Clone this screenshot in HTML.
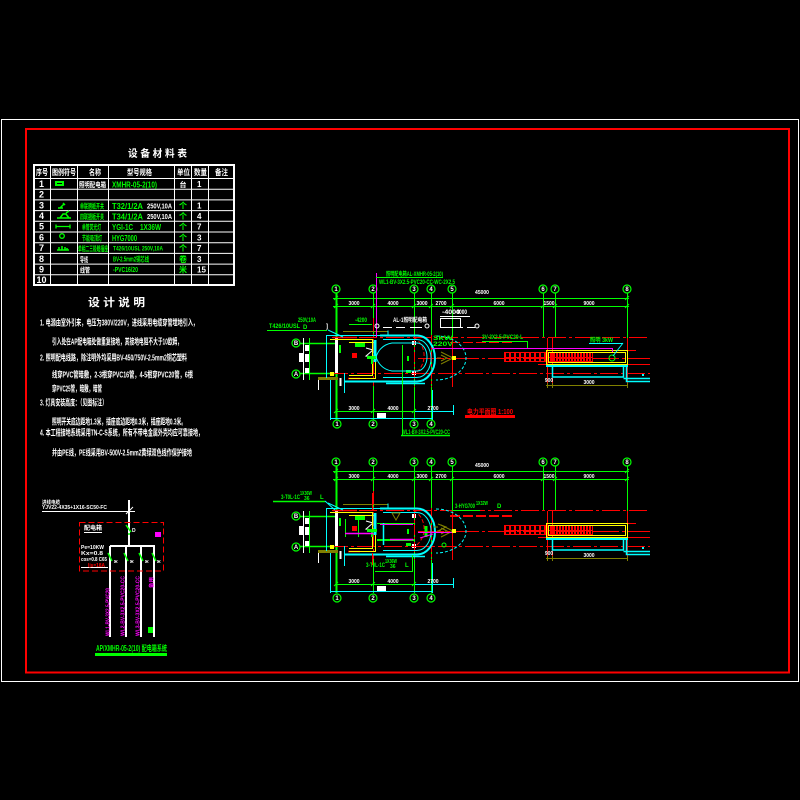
<!DOCTYPE html>
<html><head><meta charset="utf-8"><title>电力平面图</title>
<style>
html,body{margin:0;padding:0;background:#000;width:800px;height:800px;overflow:hidden}
svg{display:block}
text{font-family:"Liberation Sans","Noto Sans CJK SC",sans-serif;font-weight:bold}
.w{fill:#fff}.g{fill:#0f0}.r{fill:#f00}.m{fill:#f0f}
</style></head><body>
<svg width="800" height="800" viewBox="0 0 800 800" xmlns="http://www.w3.org/2000/svg">
<defs>
<pattern id="p1" x="504" y="0" width="5" height="20" patternUnits="userSpaceOnUse"><rect width="2" height="20" fill="#f00"/></pattern>
<pattern id="p2" x="547" y="0" width="3" height="20" patternUnits="userSpaceOnUse"><rect width="2" height="20" fill="#f00"/></pattern>
</defs>
<rect width="800" height="800" fill="#000"/>
<rect x="1.5" y="119.5" width="797" height="562" fill="none" stroke="#fff" stroke-width="1"/>
<rect x="26" y="129" width="763" height="543.5" fill="none" stroke="#f00" stroke-width="2"/>

<!-- ============ TABLE ============ -->
<text x="128" y="157" class="w" font-size="10" textLength="59" lengthAdjust="spacingAndGlyphs">设 备 材 料 表</text>
<g stroke="#fff" fill="none">
<rect x="34" y="165" width="200" height="120" stroke-width="2"/>
<g stroke-width="1">
<line x1="34" y1="178.5" x2="234" y2="178.5"/>
<line x1="34" y1="189.2" x2="234" y2="189.2"/>
<line x1="34" y1="199.9" x2="234" y2="199.9"/>
<line x1="34" y1="210.6" x2="234" y2="210.6"/>
<line x1="34" y1="221.3" x2="234" y2="221.3"/>
<line x1="34" y1="232" x2="234" y2="232"/>
<line x1="34" y1="242.7" x2="234" y2="242.7"/>
<line x1="34" y1="253.4" x2="234" y2="253.4"/>
<line x1="34" y1="264.1" x2="234" y2="264.1"/>
<line x1="34" y1="274.8" x2="234" y2="274.8"/>
<line x1="50.5" y1="165" x2="50.5" y2="285"/>
<line x1="77.5" y1="165" x2="77.5" y2="285"/>
<line x1="108.5" y1="165" x2="108.5" y2="285"/>
<line x1="174.5" y1="165" x2="174.5" y2="285"/>
<line x1="191.5" y1="165" x2="191.5" y2="285"/>
<line x1="208.5" y1="165" x2="208.5" y2="285"/>
</g></g>
<g class="w" font-size="8">
<text x="36" y="175" textLength="12" lengthAdjust="spacingAndGlyphs">序号</text>
<text x="52" y="175" textLength="24" lengthAdjust="spacingAndGlyphs">图例符号</text>
<text x="89" y="175" textLength="12" lengthAdjust="spacingAndGlyphs">名称</text>
<text x="127" y="175" textLength="25" lengthAdjust="spacingAndGlyphs">型号规格</text>
<text x="177" y="175" textLength="13" lengthAdjust="spacingAndGlyphs">单位</text>
<text x="194" y="175" textLength="13" lengthAdjust="spacingAndGlyphs">数量</text>
<text x="215" y="175" textLength="13" lengthAdjust="spacingAndGlyphs">备注</text>
</g>
<g class="w" font-size="9" font-weight="normal" text-anchor="middle">
<text x="41.5" y="187">1</text><text x="41.5" y="197.5">2</text><text x="41.5" y="208.3">3</text>
<text x="41.5" y="219">4</text><text x="41.5" y="229.7">5</text><text x="41.5" y="240.4">6</text>
<text x="41.5" y="251.1">7</text><text x="41.5" y="261.8">8</text><text x="41.5" y="272.5">9</text>
<text x="41.5" y="283.2">10</text>
</g>
<!-- icons -->
<rect x="55" y="181" width="9" height="5" fill="#0f0"/><line x1="57" y1="183.5" x2="62" y2="183.5" stroke="#000"/>
<path d="M58 208 h5 M60 208 l4 -4 M63 203 l2 2" stroke="#0f0" stroke-width="1.5" fill="none"/>
<path d="M57 218 h14 M60 218 l3 -4 h3 l3 4 M66 213 l3 -2" stroke="#0f0" stroke-width="1.5" fill="none"/>
<path d="M56 226.5 h14 M56 224.5 v4 M70 224.5 v4" stroke="#0f0" stroke-width="1.3" fill="none"/>
<circle cx="62" cy="236" r="2.3" stroke="#0f0" stroke-width="1.3" fill="none"/>
<path d="M57 250 h12 M59 250 v-3 M62 250 v-4 M65 250 v-3 M67 250 v-2" stroke="#0f0" stroke-width="1.5" fill="none"/>
<!-- names -->
<g font-size="7">
<text x="79" y="187" class="w" textLength="27" lengthAdjust="spacingAndGlyphs">照明配电箱</text>
<text x="80" y="208.3" class="g" textLength="24" lengthAdjust="spacingAndGlyphs">单联翘板开关</text>
<text x="80" y="219" class="g" textLength="24" lengthAdjust="spacingAndGlyphs">四联翘板开关</text>
<text x="82" y="229.7" class="g" textLength="19" lengthAdjust="spacingAndGlyphs">单管荧光灯</text>
<text x="82" y="240.4" class="g" textLength="20" lengthAdjust="spacingAndGlyphs">节能吸顶灯</text>
<text x="78" y="251.1" class="g" textLength="30" lengthAdjust="spacingAndGlyphs">单相二三极暗插座</text>
<text x="80" y="261.8" class="w" textLength="8" lengthAdjust="spacingAndGlyphs">导线</text>
<text x="80" y="272.5" class="w" textLength="10" lengthAdjust="spacingAndGlyphs">线管</text>
</g>
<g font-size="8.5" font-weight="normal">
<text x="112" y="187.5" class="g" textLength="45" lengthAdjust="spacingAndGlyphs">XMHR-05-2(10)</text>
<text x="112" y="208.8" class="g" textLength="31" lengthAdjust="spacingAndGlyphs">T32/1/2A</text>
<text x="147" y="208.3" class="w" font-size="7" textLength="25" lengthAdjust="spacingAndGlyphs">250V,10A</text>
<text x="112" y="219.5" class="g" textLength="31" lengthAdjust="spacingAndGlyphs">T34/1/2A</text>
<text x="147" y="219" class="w" font-size="7" textLength="25" lengthAdjust="spacingAndGlyphs">250V,10A</text>
<text x="112" y="230.2" class="g" textLength="21" lengthAdjust="spacingAndGlyphs">YGI-1C</text>
<text x="140" y="230.2" class="g" textLength="21" lengthAdjust="spacingAndGlyphs">1X36W</text>
<text x="112" y="240.9" class="g" textLength="25" lengthAdjust="spacingAndGlyphs">HYG7000</text>
<text x="113" y="250.6" class="g" font-size="6" textLength="50" lengthAdjust="spacingAndGlyphs">T426/10USL  250V,10A</text>
<text x="113" y="261.5" class="g" font-size="7" textLength="36" lengthAdjust="spacingAndGlyphs">BV-2.5mm2铜芯线</text>
<text x="113" y="272.2" class="g" font-size="7" textLength="25" lengthAdjust="spacingAndGlyphs">-PVC16/20</text>
</g>
<g font-size="8" text-anchor="middle">
<text x="183" y="187" class="w" font-size="7">台</text>
<text x="183" y="208.3" class="g">个</text><text x="183" y="219" class="g">个</text>
<text x="183" y="229.7" class="g">个</text><text x="183" y="240.4" class="g">个</text>
<text x="183" y="251.1" class="g">个</text><text x="183" y="261.8" class="g">卷</text>
<text x="183" y="272.5" class="g">米</text>
</g>
<g class="w" font-size="8" font-weight="normal">
<text x="197" y="187">1</text><text x="197" y="208.3">1</text><text x="197" y="219">4</text>
<text x="197" y="229.7">7</text><text x="197" y="240.4">3</text><text x="197" y="251.1">7</text>
<text x="197" y="261.8">3</text><text x="197" y="272.5">15</text>
</g>

<!-- ============ NOTES ============ -->
<text x="88" y="306" class="w" font-size="11" textLength="57" lengthAdjust="spacingAndGlyphs">设 计 说 明</text>
<g class="w" font-size="8.5">
<text x="40" y="325.5" textLength="158" lengthAdjust="spacingAndGlyphs">1. 电源由室外引来，电压为380V/220V，进线采用电缆穿管埋地引入，</text>
<text x="52" y="344.5" textLength="130" lengthAdjust="spacingAndGlyphs">引入处在AP配电箱处做重复接地，其接地电阻不大于10欧姆，</text>
<text x="40" y="360.5" textLength="147" lengthAdjust="spacingAndGlyphs">2. 照明配电线路，除注明外均采用BV-450/750V-2.5mm2铜芯塑料</text>
<text x="52" y="377.5" textLength="141" lengthAdjust="spacingAndGlyphs">线穿PVC管暗敷，2-3根穿PVC16管，4-5根穿PVC20管，6根</text>
<text x="52" y="391.5" textLength="50" lengthAdjust="spacingAndGlyphs">穿PVC25管，暗敷，暗管</text>
<text x="40" y="405.5" textLength="67" lengthAdjust="spacingAndGlyphs">3. 灯具安装高度：（见图标注）</text>
<text x="52" y="424.5" textLength="134" lengthAdjust="spacingAndGlyphs">照明开关底边距地1.3米，插座底边距地0.3米，插座距地0.3米。</text>
<text x="40" y="435.5" textLength="163" lengthAdjust="spacingAndGlyphs">4. 本工程接地系统采用TN-C-S系统，所有不带电金属外壳均应可靠接地，</text>
<text x="52" y="455.5" textLength="140" lengthAdjust="spacingAndGlyphs">并由PE线，PE线采用BV-500V-2.5mm2黄绿双色线作保护接地</text>
</g>

<!-- ============ SYSTEM DIAGRAM ============ -->
<g class="w" font-size="5">
<text x="42" y="504" textLength="18" lengthAdjust="spacingAndGlyphs">进线电缆</text>
<text x="42" y="509" textLength="65" lengthAdjust="spacingAndGlyphs">YJV22-4X35+1X16-SC50-FC</text>
</g>
<g stroke="#fff" fill="none">
<line x1="42" y1="511.5" x2="135" y2="511.5"/>
<line x1="129" y1="500" x2="129" y2="546" stroke-width="2"/>
<line x1="126" y1="514" x2="133" y2="507"/>
<line x1="110" y1="546" x2="155" y2="546" stroke-width="2"/>
<line x1="110" y1="546" x2="110" y2="637" stroke-width="2"/>
<line x1="126" y1="546" x2="126" y2="637" stroke-width="2"/>
<line x1="141" y1="546" x2="141" y2="637" stroke-width="2"/>
<line x1="154" y1="546" x2="154" y2="637" stroke-width="2"/>
<line x1="84" y1="532.5" x2="102" y2="532.5"/>
<line x1="81" y1="567.5" x2="108" y2="567.5"/>
</g>
<rect x="79.5" y="522.5" width="84" height="48.5" fill="none" stroke="#f00" stroke-width="1" stroke-dasharray="6 3"/>
<text x="84" y="530" class="w" font-size="6" textLength="18" lengthAdjust="spacingAndGlyphs">配电箱</text>
<g stroke="#0f0" stroke-width="1.5" fill="none">
<path d="M126 525 L131 532 M129 533 V535"/>
<path d="M108 553 L112 561 M124 553 L128 561 M139 553 L143 561 M152 553 L156 561"/>
</g>
<g class="w" font-size="5">
<text x="132" y="532">D</text>
<text x="114" y="563">ж</text><text x="130" y="563">ж</text><text x="145" y="563">ж</text><text x="157" y="563">ж</text>
<text x="81" y="549" textLength="23" lengthAdjust="spacingAndGlyphs">Pe=10KW</text>
<text x="81" y="555" textLength="22" lengthAdjust="spacingAndGlyphs">Kx=0.8</text>
<text x="81" y="561" textLength="26" lengthAdjust="spacingAndGlyphs">cos=0.8 C65</text>
</g>
<text x="88" y="567" class="r" font-size="5" textLength="17" lengthAdjust="spacingAndGlyphs">Ijs=18A</text>
<rect x="155" y="532" width="6" height="5" fill="#f0f"/>
<g class="m" font-size="5">
<text transform="translate(109.5,636) rotate(-90)" textLength="48" lengthAdjust="spacingAndGlyphs">WL1-BV-3X2.5-PVC20</text>
<text transform="translate(124.5,636) rotate(-90)" textLength="60" lengthAdjust="spacingAndGlyphs">WL2-BV-3X2.5-PVC20-CC</text>
<text transform="translate(139.5,636) rotate(-90)" textLength="60" lengthAdjust="spacingAndGlyphs">WL3-BV-3X2.5-PVC20-CC</text>
<text transform="translate(153,588) rotate(-90)" textLength="11" lengthAdjust="spacingAndGlyphs">备用</text>
</g>
<rect x="148" y="627" width="5" height="6" fill="#0f0"/>
<text x="96" y="651" class="g" font-size="8" font-weight="normal" textLength="71" lengthAdjust="spacingAndGlyphs">AP/XMHR-05-2(10) 配电箱系统</text>
<rect x="95" y="653" width="72" height="3" fill="#0f0"/>

<!-- ============ COMMON PLAN GEOMETRY ============ -->
<g id="cm" fill="none">
 <g stroke="#0f0">
  <line x1="336.5" y1="293" x2="336.5" y2="420" stroke-width="2"/>
  <line x1="373.5" y1="293" x2="373.5" y2="335"/>
  <line x1="373.5" y1="385" x2="373.5" y2="420"/>
  <line x1="414.5" y1="293" x2="414.5" y2="420"/>
  <line x1="431.5" y1="293" x2="431.5" y2="420"/>
  <line x1="452.5" y1="293" x2="452.5" y2="338"/>
  <line x1="543.5" y1="293" x2="543.5" y2="338"/>
  <line x1="555.5" y1="293" x2="555.5" y2="338"/>
  <line x1="627.5" y1="293" x2="627.5" y2="338"/>
  <line x1="333" y1="298.5" x2="629" y2="298.5"/>
  <line x1="333" y1="306.5" x2="629" y2="306.5"/>
  <path d="M334 308 l4 -4 M371 308 l4 -4 M412 308 l4 -4 M429 308 l4 -4 M450 308 l4 -4 M541 308 l4 -4 M553 308 l4 -4 M625 308 l4 -4 M334 300 l4 -4 M625 300 l4 -4"/>
  <line x1="300" y1="343.5" x2="338" y2="343.5" stroke-width="1.5"/>
  <line x1="300" y1="373.5" x2="338" y2="373.5" stroke-width="1.5"/>
  <line x1="309.5" y1="338" x2="309.5" y2="380"/>
  <line x1="335" y1="411.5" x2="415" y2="411.5"/>
  <path d="M334 413 l4 -4 M371 413 l4 -4 M412 413 l4 -4"/>
 </g>
 <g stroke="#fff">
  <line x1="303.5" y1="338" x2="303.5" y2="380"/>
  <line x1="336.5" y1="337" x2="336.5" y2="373" stroke-width="3"/>
  <line x1="340.5" y1="378" x2="340.5" y2="386" stroke-width="2"/>
  <line x1="318.5" y1="380" x2="318.5" y2="390"/>
  <path d="M366 348 L373 350 L366 356 L373 357"/>
 </g>
 <rect x="299" y="353" width="4" height="9" fill="#fff"/>
 <rect x="305" y="345" width="4" height="6" fill="#fff"/>
 <rect x="305" y="354" width="4" height="8" fill="#fff"/>
 <rect x="305" y="368" width="4" height="5" fill="#fff"/>
 <rect x="412" y="341" width="4" height="4" fill="#fff"/>
 <rect x="412" y="371" width="4" height="4" fill="#fff"/>
 <rect x="377" y="413" width="9" height="5" fill="#fff"/>
 <!-- red -->
 <g stroke="#f00">
  <line x1="373.5" y1="318" x2="373.5" y2="386" stroke-dasharray="14 2 3 2"/>
  <line x1="414.5" y1="335" x2="414.5" y2="387" stroke-dasharray="10 2 3 2"/>
  <line x1="431.5" y1="335" x2="431.5" y2="387" stroke-dasharray="10 2 3 2"/>
  <line x1="452.5" y1="338" x2="452.5" y2="387"/>
  <line x1="547.5" y1="338" x2="547.5" y2="387"/>
  <line x1="552.5" y1="338" x2="552.5" y2="387"/>
  <line x1="627.5" y1="338" x2="627.5" y2="350"/>
  <line x1="627.5" y1="365" x2="627.5" y2="387"/>
  <line x1="332" y1="337.5" x2="650" y2="337.5" stroke-dasharray="18 3 3 3"/>
  <line x1="418" y1="358.5" x2="650" y2="358.5" stroke-dasharray="26 3 3 3"/>
  <line x1="330" y1="373.5" x2="650" y2="373.5" stroke-dasharray="18 3 3 3"/>
  <line x1="450" y1="342.5" x2="512" y2="342.5" stroke-dasharray="10 3"/>
  <line x1="538" y1="364.5" x2="650" y2="364.5"/>
  <line x1="600" y1="350.5" x2="636" y2="350.5"/>
  <line x1="333" y1="337.5" x2="357" y2="337.5" stroke-width="1.5"/>
  <line x1="348" y1="378.5" x2="360" y2="378.5" stroke-width="1.5"/>
  <path d="M414 337.5 A20 21 0 0 1 414 374" stroke-dasharray="4 2"/>
  <line x1="504" y1="352.5" x2="593" y2="352.5"/>
  <line x1="504" y1="357.5" x2="593" y2="357.5"/>
  <line x1="504" y1="361.5" x2="593" y2="361.5"/>
 </g>
 <rect x="352" y="353" width="5" height="5" fill="#f00"/>
 <rect x="504" y="352" width="43" height="10" fill="url(#p1)"/>
 <rect x="547" y="352" width="46" height="10" fill="url(#p2)"/>
 <!-- olive -->
 <g stroke="#808000">
  <path d="M343 331.5 H388 V335"/>
  <line x1="318" y1="378.5" x2="338" y2="378.5" stroke-width="3"/>
  <line x1="546" y1="385.5" x2="628" y2="385.5"/>
  <path d="M547.5 383 v5 M552.5 383 v5 M627.5 383 v5"/>
  <path d="M441 352 L453 358 L441 364 M441 355 L447 358 L441 361 M441 358 H437"/>
 </g>
 <rect x="452" y="356" width="4" height="4" fill="#ff0"/>
 <!-- yellow -->
 <g stroke="#ff0">
  <path d="M330 339.5 H372.5 V375.5 H349"/>
  <path d="M349 342.5 H375.5 V378.5 H349"/>
  <rect x="546.5" y="350.5" width="81" height="14"/>
  <rect x="548.5" y="352.5" width="77" height="10"/>
 </g>
 <rect x="330" y="372" width="4" height="4" fill="#ff0"/>
 <!-- cyan -->
 <g stroke="#0ff">
  <path d="M326.5 378 V335.5 H388 V330.5"/>
  <line x1="328" y1="330" x2="343" y2="337"/>
  <path d="M380 335.5 H417 A18 23 0 0 1 417 381.5 H345" stroke-width="2"/>
  <path d="M383 339.5 H417 A14 19 0 0 1 417 377.5 H383"/>
  <line x1="386" y1="383.5" x2="425" y2="383.5" stroke-width="1.5"/>
  <path d="M436 336 A30 22 0 0 1 436 380" stroke-dasharray="3 2"/>
  <line x1="375" y1="340" x2="375" y2="362" stroke-width="3"/>
  <line x1="344.5" y1="373" x2="344.5" y2="393"/>
  <line x1="330.5" y1="380" x2="330.5" y2="420"/>
  <line x1="330" y1="418.5" x2="432" y2="418.5"/>
  <line x1="432.5" y1="390" x2="432.5" y2="420"/>
  <line x1="415" y1="411.5" x2="453" y2="411.5"/>
  <line x1="453.5" y1="405" x2="453.5" y2="415"/>
  <line x1="546" y1="366" x2="628" y2="366" stroke-width="2"/>
  <path d="M552.5 366 V377 H623.5 V366" stroke-width="1.5"/>
  <path d="M626.5 366 V381.5 H650 M623.5 378.5 H650" stroke-width="1.5"/>
 </g>
 <rect x="642" y="374" width="2" height="2" fill="#0ff"/>
 <!-- green bits inside -->
 <g fill="#0f0">
  <rect x="355" y="343" width="10" height="4"/>
  <rect x="339" y="345" width="2" height="8"/>
  <rect x="367" y="356" width="10" height="3"/>
  <rect x="371" y="358" width="2" height="6"/>
  <rect x="406" y="370" width="5" height="3"/>
  <rect x="407" y="356" width="2" height="5"/>
 </g>
</g>
<use href="#cm" transform="translate(0,173)"/>

<!-- bubbles -->
<g stroke="#0f0" fill="#000" stroke-width="1.2">
 <circle cx="336" cy="289" r="4"/><circle cx="373" cy="289" r="4"/><circle cx="414" cy="289" r="4"/><circle cx="431" cy="289" r="4"/>
 <circle cx="452" cy="289" r="4"/><circle cx="543" cy="289" r="4"/><circle cx="555" cy="289" r="4"/><circle cx="627" cy="289" r="4"/>
 <circle cx="296" cy="343" r="4"/><circle cx="296" cy="374" r="4"/>
 <circle cx="337" cy="424" r="4"/><circle cx="373" cy="424" r="4"/><circle cx="414" cy="424" r="4"/><circle cx="431" cy="424" r="4"/>
 <circle cx="336" cy="462" r="4"/><circle cx="373" cy="462" r="4"/><circle cx="414" cy="462" r="4"/><circle cx="431" cy="462" r="4"/>
 <circle cx="452" cy="462" r="4"/><circle cx="543" cy="462" r="4"/><circle cx="555" cy="462" r="4"/><circle cx="627" cy="462" r="4"/>
 <circle cx="296" cy="516" r="4"/><circle cx="296" cy="547" r="4"/>
 <circle cx="337" cy="598" r="4"/><circle cx="373" cy="598" r="4"/><circle cx="414" cy="598" r="4"/><circle cx="431" cy="598" r="4"/>
</g>
<g class="w" font-size="6" text-anchor="middle">
 <text x="336" y="291">1</text><text x="373" y="291">2</text><text x="414" y="291">3</text><text x="431" y="291">4</text>
 <text x="452" y="291">5</text><text x="543" y="291">6</text><text x="555" y="291">7</text><text x="627" y="291">8</text>
 <text x="296" y="345">B</text><text x="296" y="376">A</text>
 <text x="337" y="426">1</text><text x="373" y="426">2</text><text x="414" y="426">3</text><text x="431" y="426">4</text>
 <text x="336" y="464">1</text><text x="373" y="464">2</text><text x="414" y="464">3</text><text x="431" y="464">4</text>
 <text x="452" y="464">5</text><text x="543" y="464">6</text><text x="555" y="464">7</text><text x="627" y="464">8</text>
 <text x="296" y="518">B</text><text x="296" y="549">A</text>
 <text x="337" y="600">1</text><text x="373" y="600">2</text><text x="414" y="600">3</text><text x="431" y="600">4</text>
</g>
<!-- dimension texts -->
<g class="w" font-size="5" text-anchor="middle">
 <text x="482" y="294">45000</text>
 <text x="354" y="305">3000</text><text x="393" y="305">4000</text><text x="422" y="305">3000</text><text x="441" y="305">2700</text>
 <text x="499" y="305">6000</text><text x="549" y="305">1500</text><text x="589" y="305">9000</text>
 <text x="354" y="410">3000</text><text x="393" y="410">4000</text><text x="433" y="410">2700</text>
 <text x="589" y="384">3000</text><text x="549" y="382">900</text>
 <text x="482" y="467">45000</text>
 <text x="354" y="478">3000</text><text x="393" y="478">4000</text><text x="422" y="478">3000</text><text x="441" y="478">2700</text>
 <text x="499" y="478">6000</text><text x="549" y="478">1500</text><text x="589" y="478">9000</text>
 <text x="354" y="583">3000</text><text x="393" y="583">4000</text><text x="433" y="583">2700</text>
 <text x="589" y="557">3000</text><text x="549" y="555">900</text>
</g>

<!-- ============ TOP PLAN SPECIFIC ============ -->
<line x1="376.5" y1="273" x2="376.5" y2="337" stroke="#f0f"/>
<line x1="432" y1="348.5" x2="613" y2="348.5" stroke="#f0f"/>
<line x1="612.5" y1="348" x2="612.5" y2="352" stroke="#f0f"/>
<g class="g" font-size="6" font-weight="normal">
 <text x="386" y="276" textLength="57" lengthAdjust="spacingAndGlyphs">照明配电箱AL-XMHR-05-2(10)</text>
 <text x="379" y="284" textLength="76" lengthAdjust="spacingAndGlyphs">WL1-BV-3X2.5-PVC20-CC-WC-2X2.5</text>
 <text x="298" y="322" textLength="18" lengthAdjust="spacingAndGlyphs">250V,10A</text>
 <text x="269" y="328" textLength="31" lengthAdjust="spacingAndGlyphs">T426/10USL</text>
 <text x="303" y="329">D</text>
 <text x="355" y="322" textLength="12" lengthAdjust="spacingAndGlyphs">-4200</text>
 <text x="433" y="340" textLength="20" lengthAdjust="spacingAndGlyphs">3kW</text>
 <text x="433" y="346" textLength="20" lengthAdjust="spacingAndGlyphs">220V</text>
 <text x="482" y="339" textLength="41" lengthAdjust="spacingAndGlyphs">3V-3X2.5-PVC20-L</text>
 <text x="590" y="342" textLength="23" lengthAdjust="spacingAndGlyphs">照明 3kW</text>
 <text x="402" y="434" textLength="48" lengthAdjust="spacingAndGlyphs">WL1-BV-3X2.5-PVC20-CC</text>
</g>
<text x="326" y="328" class="w" font-size="6">]</text>
<g stroke="#0f0" fill="none">
 <line x1="376" y1="277.5" x2="443" y2="277.5"/>
 <line x1="267" y1="330.5" x2="327" y2="330.5"/>
 <line x1="349" y1="324.5" x2="372" y2="324.5"/>
 <path d="M482 341.5 H527.5 V348"/>
 <line x1="402.5" y1="345" x2="402.5" y2="435"/>
 <line x1="401" y1="435.5" x2="450" y2="435.5" stroke-width="1.5"/>
 <circle cx="612" cy="358" r="3"/>
</g>
<g stroke="#0ff" fill="none">
 <line x1="623" y1="343" x2="613" y2="356"/>
 <line x1="589" y1="343.5" x2="623" y2="343.5"/>
 <path d="M376 357 Q380 345 392 343 H417 A10 14 0 0 1 417 371 H392 Q380 369 376 357"/>
</g>
<g class="w" font-size="6">
 <text x="393" y="322" textLength="34" lengthAdjust="spacingAndGlyphs">AL-1照明配电箱</text>
 <text x="442" y="314" textLength="18" lengthAdjust="spacingAndGlyphs">-4000</text>
 <text x="455" y="314" textLength="12" lengthAdjust="spacingAndGlyphs">-4000</text>
</g>
<g stroke="#fff" fill="none">
 <line x1="440" y1="316.5" x2="470" y2="316.5"/>
 <path d="M383 327.5 H392 M396 327.5 H405 M410 327.5 H422 M453 327.5 H463 M467 327.5 H475"/>
 <circle cx="427" cy="326" r="2"/><circle cx="377" cy="326" r="2"/><circle cx="477" cy="326" r="2"/>
 <rect x="440.5" y="318.5" width="20" height="9"/>
</g>
<text x="467" y="414" class="r" font-size="7" textLength="46" lengthAdjust="spacingAndGlyphs">电力平面图 1:100</text>
<rect x="465" y="415" width="50" height="3" fill="#f00"/>

<!-- ============ BOTTOM PLAN SPECIFIC ============ -->
<g class="g" font-size="6" font-weight="normal">
 <text x="281" y="499" textLength="19" lengthAdjust="spacingAndGlyphs">3-T0L-1C</text>
 <text x="300" y="495" font-size="5" textLength="12" lengthAdjust="spacingAndGlyphs">1X36W</text>
 <text x="304" y="500" font-size="5">36</text>
 <text x="320" y="499">L</text>
 <text x="366" y="567" textLength="19" lengthAdjust="spacingAndGlyphs">3-T0L-1C</text>
 <text x="385" y="563" font-size="5" textLength="12" lengthAdjust="spacingAndGlyphs">1X36W</text>
 <text x="390" y="568" font-size="5">36</text>
 <text x="405" y="567">L</text>
 <text x="455" y="508" textLength="20" lengthAdjust="spacingAndGlyphs">3-HYG700</text>
 <text x="476" y="505" font-size="5" textLength="12" lengthAdjust="spacingAndGlyphs">1X32W</text>
 <text x="497" y="508">D</text>
</g>
<g stroke="#0f0" fill="none">
 <line x1="273" y1="501.5" x2="325" y2="501.5" stroke-width="1.5"/>
 <path d="M375 571.5 H412.5 V555"/>
 <line x1="452" y1="510.5" x2="480" y2="510.5"/>
 <line x1="377" y1="523.5" x2="415" y2="523.5"/>
 <line x1="377" y1="540" x2="415" y2="540" stroke-width="2"/>
 <line x1="426" y1="526" x2="426" y2="537" stroke-width="3"/>
 <line x1="345.5" y1="519" x2="345.5" y2="537"/>
 <line x1="358.5" y1="519" x2="358.5" y2="537"/>
 <circle cx="444" cy="545" r="2"/>
</g>
<line x1="325" y1="501" x2="335" y2="510" stroke="#0ff"/>
<line x1="383.5" y1="523" x2="383.5" y2="545" stroke="#0ff" stroke-width="1.5"/>
<g stroke="#f0f" fill="none">
 <line x1="380" y1="524.5" x2="413" y2="524.5"/>
 <line x1="390" y1="539.5" x2="413" y2="539.5" stroke-width="1.5"/>
 <line x1="345" y1="533.5" x2="373" y2="533.5" stroke-width="1.5"/>
 <line x1="418" y1="532.5" x2="452" y2="532.5"/>
 <line x1="420" y1="538" x2="433" y2="534"/>
</g>
<g stroke="#808000" fill="none">
 <path d="M392 513 L400 513 L396 520 Z"/>
 <path d="M438 524 L446 527 L438 531 M438 527 H434"/>
</g>
<line x1="372.5" y1="493" x2="372.5" y2="510" stroke="#f00"/>
<line x1="372.5" y1="553" x2="372.5" y2="565" stroke="#f00"/>
<line x1="450" y1="516.5" x2="514" y2="516.5" stroke="#f00" stroke-dasharray="10 3"/>
</svg>
</body></html>
